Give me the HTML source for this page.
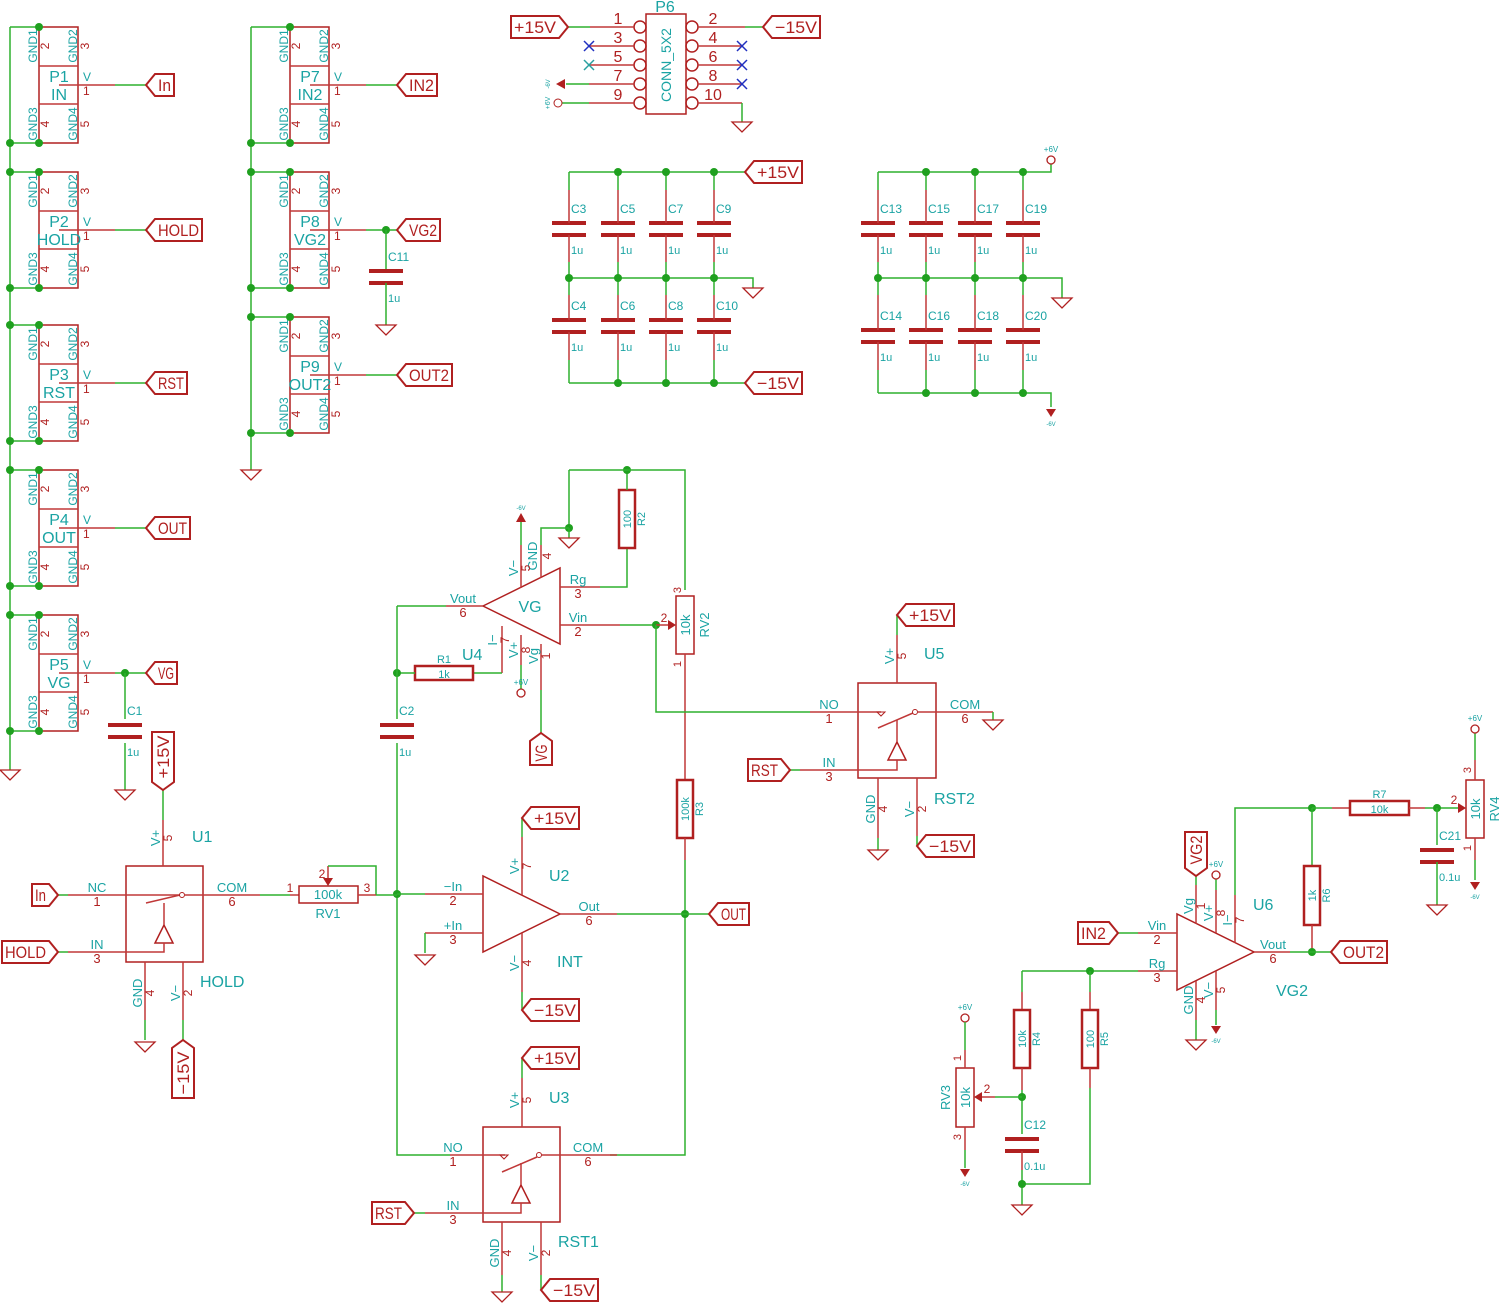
<!DOCTYPE html>
<html><head><meta charset="utf-8"><style>
html,body{margin:0;padding:0;background:#fff;}
svg{display:block;}
text{font-family:"Liberation Sans",sans-serif;}
</style></head><body>
<svg id="s" xmlns="http://www.w3.org/2000/svg" width="1500" height="1303" viewBox="0 0 1500 1303"></svg>
<script>
const S=[];const G="#2fb02f",R="#b02020",RP="#c03838",C="#1aa3a3",B="#2030c0";
function L(p,c,w){S.push(`<polyline points="${p}" fill="none" stroke="${c||G}" stroke-width="${w||1.5}"/>`);}
function W(p){L(p,G,1.5);}
function P(p){L(p,RP,1.5);}
function D(x,y){S.push(`<circle cx="${x}" cy="${y}" r="4" fill="#1fa01f"/>`);}
function T(x,y,s,o){o=o||{};const sz=o.s||14,c=o.c||C,a=o.a||"start";const tr=o.r?` transform="rotate(${o.r} ${x} ${y})"`:"";const tl=o.tl?` textLength="${o.tl}" lengthAdjust="spacingAndGlyphs"`:"";S.push(`<text x="${x}" y="${y}" font-size="${sz}" fill="${c}" text-anchor="${a}"${tr}${tl}>${s}</text>`);}
function GND(x,y){S.push(`<polygon points="${x-10},${y} ${x+10},${y} ${x},${y+10}" fill="none" stroke="${R}" stroke-width="1.3"/>`);}
function P6V(x,y){S.push(`<circle cx="${x}" cy="${y}" r="4" fill="none" stroke="${R}" stroke-width="1.3"/>`);T(x,y-8,"+6V",{s:8,a:"middle"});}
function M6V(x,y){S.push(`<polygon points="${x-5},${y-8} ${x+5},${y-8} ${x},${y}" fill="${R}"/>`);T(x,y+9,"-6V",{s:6,a:"middle"});}
function GL(x,y,t,d,w){
 let pts,tx;if(d=='L'){pts=`${x},${y} ${x+9},${y-11} ${x+w},${y-11} ${x+w},${y+11} ${x+9},${y+11}`;tx=x+9+(w-9)/2;}
 else{pts=`${x},${y} ${x-9},${y-11} ${x-w},${y-11} ${x-w},${y+11} ${x-9},${y+11}`;tx=x-9-(w-9)/2;}
 S.push(`<polygon points="${pts}" fill="#fff" stroke="${R}" stroke-width="2"/>`);T(tx,y+6,t,{s:17,c:R,a:"middle",tl:w-15});}
function GV(x,y,t,d,h){
 let pts,cy;if(d=='U'){pts=`${x},${y} ${x+11},${y+8} ${x+11},${y+h} ${x-11},${y+h} ${x-11},${y+8}`;cy=y+8+(h-8)/2;}
 else{pts=`${x},${y} ${x+11},${y-8} ${x+11},${y-h} ${x-11},${y-h} ${x-11},${y-8}`;cy=y-8-(h-8)/2;}
 S.push(`<polygon points="${pts}" fill="#fff" stroke="${R}" stroke-width="2"/>`);T(x+6,cy,t,{s:17,c:R,a:"middle",r:-90,tl:h-15});}
function CAP(x,y,ref,val){
 S.push(`<line x1="${x-17}" y1="${y-6}" x2="${x+17}" y2="${y-6}" stroke="${R}" stroke-width="4"/>`);
 S.push(`<line x1="${x-17}" y1="${y+6}" x2="${x+17}" y2="${y+6}" stroke="${R}" stroke-width="4"/>`);
 T(x+2,y-16,ref,{s:12});T(x+2,y+25,val,{s:11});}
function RES(x,y1,y2,val,ref){S.push(`<rect x="${x-8}" y="${y1}" width="16" height="${y2-y1}" fill="none" stroke="${R}" stroke-width="2.5"/>`);
 T(x+4,(y1+y2)/2,val,{s:11,a:"middle",r:-90});T(x+18,(y1+y2)/2,ref,{s:11,a:"middle",r:-90});}
function RESH(x1,x2,y,val,ref){S.push(`<rect x="${x1}" y="${y-7}" width="${x2-x1}" height="14" fill="none" stroke="${R}" stroke-width="2.5"/>`);
 T((x1+x2)/2,y+5,val,{s:11,a:"middle"});T((x1+x2)/2,y-10,ref,{s:11,a:"middle"});}
function POT(x,y1,y2,val,ref,left){S.push(`<rect x="${x-9}" y="${y1}" width="18" height="${y2-y1}" fill="none" stroke="${R}" stroke-width="1.5"/>`);
 T(x+5,(y1+y2)/2,val,{s:13,a:"middle",r:-90});T(left?x-15:x+24,(y1+y2)/2,ref,{s:13,a:"middle",r:-90});}

function CONN(x0,top,name,sig,wx,lab,lw){
 S.push(`<rect x="${x0}" y="${top}" width="39" height="116" fill="none" stroke="${R}" stroke-width="1.5"/>`);
 P(`${x0},${top+39} ${x0+39},${top+39}`);P(`${x0},${top+77} ${x0+39},${top+77}`);
 T(x0-2,top+19,"GND1",{s:12,a:"middle",r:-90});T(x0+38,top+19,"GND2",{s:12,a:"middle",r:-90});
 T(x0-2,top+97,"GND3",{s:12,a:"middle",r:-90});T(x0+38,top+97,"GND4",{s:12,a:"middle",r:-90});
 T(x0+10,top+19,"2",{s:12,c:R,a:"middle",r:-90});T(x0+50,top+19,"3",{s:12,c:R,a:"middle",r:-90});
 T(x0+10,top+97,"4",{s:12,c:R,a:"middle",r:-90});T(x0+50,top+97,"5",{s:12,c:R,a:"middle",r:-90});
 T(x0+20,top+55,name,{s:16,a:"middle"});T(x0+20,top+73,sig,{s:16,a:"middle"});
 T(x0+44,top+54,"V",{s:12});T(x0+44,top+68,"1",{s:12,c:R});
 P(`${x0+20},${top+58} ${x0+76},${top+58}`);W(`${x0+76},${top+58} ${wx},${top+58}`);
 GL(wx,top+58,lab,'L',lw);
}
const tops1=[27,172,325,470,615],nm1=["P1","P2","P3","P4","P5"],sg1=["IN","HOLD","RST","OUT","VG"],lb1=["In","HOLD","RST","OUT","VG"],lw1=[28,56,41,44,31];
W(`10,27 10,770`);GND(10,770);
tops1.forEach((t,i)=>{CONN(39,t,nm1[i],sg1[i],146,lb1[i],lw1[i]);W(`10,${t} 39,${t}`);W(`10,${t+116} 39,${t+116}`);D(39,t);D(39,t+116);D(10,t+116);if(i>0)D(10,t);});
D(125,673);W(`125,673 125,719`);CAP(125,731,"C1","1u");W(`125,743 125,790`);GND(125,790);
const tops2=[27,172,317],nm2=["P7","P8","P9"],sg2=["IN2","VG2","OUT2"],lb2=["IN2","VG2","OUT2"],lw2=[40,43,55];
W(`251,27 251,470`);GND(251,470);
tops2.forEach((t,i)=>{CONN(290,t,nm2[i],sg2[i],397,lb2[i],lw2[i]);W(`251,${t} 290,${t}`);W(`251,${t+116} 290,${t+116}`);D(290,t);D(290,t+116);D(251,t+116);if(i>0)D(251,t);});
D(386,230);W(`386,230 386,270`);CAP(386,277,"C11","1u");W(`386,283 386,325`);GND(386,325);

S.push(`<rect x="646" y="14" width="40" height="100" fill="none" stroke="${R}" stroke-width="1.5"/>`);
T(665,12,"P6",{s:16,a:"middle"});T(671,65,"CONN_5X2",{s:14,a:"middle",r:-90});
[27,46,65,84,103].forEach((y,i)=>{S.push(`<circle cx="640" cy="${y}" r="6" fill="none" stroke="${R}" stroke-width="1.5"/>`);S.push(`<circle cx="692" cy="${y}" r="6" fill="none" stroke="${R}" stroke-width="1.5"/>`);
 T(618,y-3,String(2*i+1),{s:16,c:R,a:"middle"});T(713,y-3,String(2*i+2),{s:16,c:R,a:"middle"});});
P(`590,27 634,27`);W(`568,27 590,27`);GL(568,27,"+15V",'R',57);
P(`698,27 745,27`);W(`745,27 763,27`);GL(763,27,"−15V",'L',57);
P(`589,46 634,46`);P(`589,65 634,65`);P(`698,46 742,46`);P(`698,65 742,65`);P(`698,84 742,84`);
function X(x,y,c){S.push(`<path d="M${x-5},${y-5}L${x+5},${y+5}M${x+5},${y-5}L${x-5},${y+5}" stroke="${c}" stroke-width="1.5"/>`);}
X(589,46,B);X(589,65,"#2aa0a0");X(742,46,B);X(742,65,B);X(742,84,B);
P(`589,84 634,84`);W(`566,84 589,84`);S.push(`<polygon points="556,84 565,79 565,89" fill="${R}"/>`);T(550,84,"-6V",{s:6,a:"middle",r:-90});
P(`589,103 634,103`);W(`562,103 589,103`);S.push(`<circle cx="558" cy="103" r="4" fill="none" stroke="${R}"/>`);T(550,103,"+6V",{s:7,a:"middle",r:-90});
P(`698,103 742,103`);W(`742,103 742,122`);GND(742,122);

const cx1=[569,618,666,714];
W(`569,172 745,172`);GL(745,172,"+15V",'L',57);
W(`569,278 753,278 753,288`);GND(753,288);
W(`569,383 745,383`);GL(745,383,"−15V",'L',57);
cx1.forEach((x,i)=>{CAP(x,229,"C"+(3+2*i),"1u");CAP(x,326,"C"+(4+2*i),"1u");
 W(`${x},172 ${x},190`);P(`${x},190 ${x},223`);P(`${x},235 ${x},262`);W(`${x},262 ${x},295`);P(`${x},295 ${x},320`);P(`${x},332 ${x},360`);W(`${x},360 ${x},383`);
 D(x,278);if(i>0){D(x,172);D(x,383);}});
const cx2=[878,926,975,1023];
W(`878,172 1051,172 1051,164`);P6V(1051,160);
W(`878,278 1062,278 1062,298`);GND(1062,298);
W(`878,393 1051,393 1051,407`);M6V(1051,417);
cx2.forEach((x,i)=>{CAP(x,229,"C"+(13+2*i),"1u");CAP(x,336,"C"+(14+2*i),"1u");
 W(`${x},172 ${x},190`);P(`${x},190 ${x},223`);P(`${x},235 ${x},262`);W(`${x},262 ${x},295`);P(`${x},295 ${x},330`);P(`${x},342 ${x},370`);W(`${x},370 ${x},393`);
 D(x,278);if(i>0){D(x,172);D(x,393);}});

S.push(`<polygon points="483,606 560,568 560,644" fill="none" stroke="${R}" stroke-width="1.5"/>`);
T(530,612,"VG",{s:16,a:"middle"});
W(`397,606 446,606`);P(`446,606 483,606`);T(463,603,"Vout",{s:13,a:"middle"});T(463,617,"6",{s:13,c:R,a:"middle"});
P(`560,587 600,587`);W(`600,587 627,587 627,548`);T(578,584,"Rg",{s:13,a:"middle"});T(578,598,"3",{s:13,c:R,a:"middle"});
RES(627,490,548,"100","R2");W(`627,490 627,470`);D(627,470);
W(`569,470 685,470 685,590`);W(`569,470 569,528`);D(569,528);W(`569,528 569,538`);GND(569,538);
P(`541,578 541,545`);W(`541,545 541,528 569,528`);T(537,556,"GND",{s:13,a:"middle",r:-90});T(551,556,"4",{s:12,c:R,a:"middle",r:-90});
P(`521,588 521,545`);W(`521,545 521,522`);S.push(`<polygon points="516,522 526,522 521,513" fill="${R}"/>`);T(521,510,"-6V",{s:6,a:"middle"});
T(518,568,"V−",{s:13,a:"middle",r:-90});T(530,568,"5",{s:12,c:R,a:"middle",r:-90});
P(`560,625 620,625`);W(`620,625 656,625`);D(656,625);P(`656,625 672,625`);S.push(`<polygon points="676,625 668,620 668,630" fill="${R}"/>`);
T(578,622,"Vin",{s:13,a:"middle"});T(578,636,"2",{s:13,c:R,a:"middle"});T(664,622,"2",{s:12,c:R,a:"middle"});
POT(685,596,654,"10k","RV2",false);T(681,590,"3",{s:11,c:R,a:"middle",r:-90});T(681,664,"1",{s:11,c:R,a:"middle",r:-90});
P(`685,654 685,780`);
W(`656,625 656,712 810,712`);
P(`502,626 502,673`);W(`502,673 473,673`);RESH(415,473,673,"1k","R1");W(`415,673 397,673`);D(397,673);
T(497,640,"I−",{s:13,a:"middle",r:-90});T(509,640,"7",{s:12,c:R,a:"middle",r:-90});
P(`521,635 521,665`);W(`521,665 521,689`);P6V(521,693);T(518,650,"V+",{s:13,a:"middle",r:-90});T(530,650,"8",{s:12,c:R,a:"middle",r:-90});
P(`541,644 541,690`);W(`541,690 541,733`);GV(541,733,"VG",'U',32);T(538,656,"Vg",{s:13,a:"middle",r:-90});T(550,656,"1",{s:12,c:R,a:"middle",r:-90});
T(462,660,"U4",{s:16});
W(`397,606 397,719`);CAP(397,731,"C2","1u");W(`397,743 397,1155 450,1155`);D(397,894);

RES(685,780,838,"100k","R3");P(`685,838 685,860`);W(`685,860 685,1155 610,1155`);D(685,914);
W(`685,914 709,914`);GL(709,914,"OUT",'L',40);

S.push(`<rect x="126" y="866" width="77" height="96" fill="none" stroke="${R}" stroke-width="1.5"/>`);
P(`68,895 182,895`);W(`58,895 68,895`);GL(58,895,"In",'R',26);
P(`146,903 180,895`);S.push(`<circle cx="182" cy="895" r="2.5" fill="#fff" stroke="${R}"/>`);
P(`184,895 260,895`);W(`260,895 290,895`);P(`290,895 299,895`);
T(97,892,"NC",{s:13,a:"middle"});T(97,906,"1",{s:13,c:R,a:"middle"});T(232,892,"COM",{s:13,a:"middle"});T(232,906,"6",{s:13,c:R,a:"middle"});
S.push(`<polygon points="164,925 155,943 173,943" fill="none" stroke="${R}" stroke-width="1.5"/>`);P(`164,903 164,925`);
P(`68,952 164,952 164,943`);W(`58,952 68,952`);GL(58,952,"HOLD",'R',56);T(97,949,"IN",{s:13,a:"middle"});T(97,963,"3",{s:13,c:R,a:"middle"});
P(`163,866 163,820`);W(`163,820 163,790`);GV(163,790,"+15V",'D',58);T(160,838,"V+",{s:13,a:"middle",r:-90});T(172,838,"5",{s:12,c:R,a:"middle",r:-90});T(192,842,"U1",{s:16});
P(`145,962 145,1020`);W(`145,1020 145,1040`);GND(145,1042);T(142,993,"GND",{s:13,a:"middle",r:-90});T(154,993,"4",{s:12,c:R,a:"middle",r:-90});
P(`183,962 183,1020`);W(`183,1020 183,1040`);GV(183,1040,"−15V",'U',58);T(180,993,"V−",{s:13,a:"middle",r:-90});T(192,993,"2",{s:12,c:R,a:"middle",r:-90});
T(200,987,"HOLD",{s:16});
S.push(`<rect x="299" y="886" width="59" height="17" fill="none" stroke="${R}" stroke-width="1.5"/>`);T(328,899,"100k",{s:13,a:"middle"});T(328,918,"RV1",{s:13,a:"middle"});
T(290,892,"1",{s:12,c:R,a:"middle"});T(367,892,"3",{s:12,c:R,a:"middle"});T(322,878,"2",{s:12,c:R,a:"middle"});
P(`328,878 328,866`);S.push(`<polygon points="328,886 323,878 333,878" fill="${R}"/>`);W(`328,866 376,866 376,895`);P(`358,895 376,895`);W(`376,895 397,895`);

S.push(`<polygon points="483,876 483,952 560,914" fill="none" stroke="${R}" stroke-width="1.5"/>`);
W(`397,894 425,894`);P(`425,894 483,894`);T(453,891,"−In",{s:13,a:"middle"});T(453,905,"2",{s:13,c:R,a:"middle"});
P(`425,933 483,933`);W(`425,933 425,953`);GND(425,955);T(453,930,"+In",{s:13,a:"middle"});T(453,944,"3",{s:13,c:R,a:"middle"});
P(`522,895 522,837`);W(`522,837 522,818`);GL(522,818,"+15V",'L',57);T(519,866,"V+",{s:13,a:"middle",r:-90});T(531,866,"7",{s:12,c:R,a:"middle",r:-90});
P(`522,933 522,992`);W(`522,992 522,1010`);GL(522,1010,"−15V",'L',57);T(519,963,"V−",{s:13,a:"middle",r:-90});T(531,963,"4",{s:12,c:R,a:"middle",r:-90});
P(`560,914 617,914`);W(`617,914 685,914`);T(589,911,"Out",{s:13,a:"middle"});T(589,925,"6",{s:13,c:R,a:"middle"});
T(549,881,"U2",{s:16});T(557,967,"INT",{s:16});

S.push(`<rect x="483" y="1127" width="77" height="95" fill="none" stroke="${R}" stroke-width="1.5"/>`);
P(`450,1155 505,1155`);S.push(`<polygon points="500,1155 508,1155 504,1159" fill="none" stroke="${R}"/>`);P(`502,1172 537,1157`);S.push(`<circle cx="539" cy="1155" r="2.5" fill="#fff" stroke="${R}"/>`);P(`542,1155 617,1155`);
T(453,1152,"NO",{s:13,a:"middle"});T(453,1166,"1",{s:13,c:R,a:"middle"});T(588,1152,"COM",{s:13,a:"middle"});T(588,1166,"6",{s:13,c:R,a:"middle"});
S.push(`<polygon points="521,1185 512,1203 530,1203" fill="none" stroke="${R}" stroke-width="1.5"/>`);P(`521,1163 521,1185`);
P(`425,1213 521,1213 521,1203`);W(`414,1213 425,1213`);GL(414,1213,"RST",'R',42);T(453,1210,"IN",{s:13,a:"middle"});T(453,1224,"3",{s:13,c:R,a:"middle"});
P(`522,1127 522,1078`);W(`522,1078 522,1058`);GL(522,1058,"+15V",'L',57);T(519,1100,"V+",{s:13,a:"middle",r:-90});T(531,1100,"5",{s:12,c:R,a:"middle",r:-90});T(549,1103,"U3",{s:16});
P(`502,1222 502,1275`);W(`502,1275 502,1292`);GND(502,1292);T(499,1253,"GND",{s:13,a:"middle",r:-90});T(511,1253,"4",{s:12,c:R,a:"middle",r:-90});
P(`541,1222 541,1275`);W(`541,1275 541,1290`);GL(541,1290,"−15V",'L',57);T(538,1253,"V−",{s:13,a:"middle",r:-90});T(550,1253,"2",{s:12,c:R,a:"middle",r:-90});
T(558,1247,"RST1",{s:16});

S.push(`<rect x="858" y="683" width="78" height="95" fill="none" stroke="${R}" stroke-width="1.5"/>`);
P(`810,712 881,712`);S.push(`<polygon points="877,712 885,712 881,716" fill="none" stroke="${R}"/>`);P(`878,728 913,713`);S.push(`<circle cx="915" cy="712" r="2.5" fill="#fff" stroke="${R}"/>`);P(`918,712 993,712`);W(`993,712 993,720`);GND(993,720);
T(829,709,"NO",{s:13,a:"middle"});T(829,723,"1",{s:13,c:R,a:"middle"});T(965,709,"COM",{s:13,a:"middle"});T(965,723,"6",{s:13,c:R,a:"middle"});
S.push(`<polygon points="897,742 888,760 906,760" fill="none" stroke="${R}" stroke-width="1.5"/>`);P(`897,720 897,742`);
P(`800,770 897,770 897,760`);W(`790,770 800,770`);GL(790,770,"RST",'R',42);T(829,767,"IN",{s:13,a:"middle"});T(829,781,"3",{s:13,c:R,a:"middle"});
P(`897,683 897,635`);W(`897,635 897,615`);GL(897,615,"+15V",'L',57);T(894,656,"V+",{s:13,a:"middle",r:-90});T(906,656,"5",{s:12,c:R,a:"middle",r:-90});T(924,659,"U5",{s:16});
P(`878,778 878,838`);W(`878,838 878,850`);GND(878,850);T(875,809,"GND",{s:13,a:"middle",r:-90});T(887,809,"4",{s:12,c:R,a:"middle",r:-90});
P(`917,778 917,836`);W(`917,836 917,846`);GL(917,846,"−15V",'L',57);T(914,809,"V−",{s:13,a:"middle",r:-90});T(926,809,"2",{s:12,c:R,a:"middle",r:-90});
T(934,804,"RST2",{s:16});

S.push(`<polygon points="1177,914 1177,990 1254,952" fill="none" stroke="${R}" stroke-width="1.5"/>`);
W(`1118,933 1138,933`);P(`1138,933 1177,933`);GL(1118,933,"IN2",'R',40);T(1157,930,"Vin",{s:13,a:"middle"});T(1157,944,"2",{s:13,c:R,a:"middle"});
P(`1138,971 1177,971`);W(`1022,971 1138,971`);D(1090,971);T(1157,968,"Rg",{s:13,a:"middle"});T(1157,982,"3",{s:13,c:R,a:"middle"});
P(`1196,924 1196,885`);W(`1196,885 1196,876`);GV(1196,876,"VG2",'D',44);T(1193,906,"Vg",{s:13,a:"middle",r:-90});T(1205,906,"1",{s:12,c:R,a:"middle",r:-90});
P(`1216,933 1216,890`);W(`1216,890 1216,879`);P6V(1216,875);T(1213,913,"V+",{s:13,a:"middle",r:-90});T(1225,913,"8",{s:12,c:R,a:"middle",r:-90});
P(`1235,943 1235,895`);W(`1235,895 1235,808 1312,808`);T(1232,920,"I−",{s:13,a:"middle",r:-90});T(1244,920,"7",{s:12,c:R,a:"middle",r:-90});
D(1312,808);W(`1312,808 1332,808`);P(`1332,808 1350,808`);RESH(1350,1409,808,"10k","R7");P(`1409,808 1425,808`);W(`1425,808 1460,808`);D(1437,808);
S.push(`<polygon points="1466,808 1458,803 1458,813" fill="${R}"/>`);T(1454,804,"2",{s:12,c:R,a:"middle"});
POT(1475,780,838,"10k","RV4",false);P(`1475,780 1475,760`);W(`1475,760 1475,733`);P6V(1475,729);T(1471,770,"3",{s:11,c:R,a:"middle",r:-90});
P(`1475,838 1475,860`);W(`1475,860 1475,880`);M6V(1475,890);T(1471,848,"1",{s:11,c:R,a:"middle",r:-90});
W(`1437,808 1437,845`);CAP(1437,856,"C21","0.1u");W(`1437,862 1437,905`);GND(1437,905);
W(`1312,808 1312,866`);RES(1312,866,925,"1k","R6");P(`1312,925 1312,952`);D(1312,952);
P(`1254,952 1290,952`);W(`1290,952 1331,952`);GL(1331,952,"OUT2",'L',56);T(1273,949,"Vout",{s:13,a:"middle"});T(1273,963,"6",{s:13,c:R,a:"middle"});
P(`1196,981 1196,1020`);W(`1196,1020 1196,1040`);GND(1196,1040);T(1193,1000,"GND",{s:13,a:"middle",r:-90});T(1205,1000,"4",{s:12,c:R,a:"middle",r:-90});
P(`1216,971 1216,1010`);W(`1216,1010 1216,1025`);M6V(1216,1034);T(1213,990,"V−",{s:13,a:"middle",r:-90});T(1225,990,"5",{s:12,c:R,a:"middle",r:-90});
T(1253,910,"U6",{s:16});T(1276,996,"VG2",{s:16});

W(`1022,971 1022,992`);P(`1022,992 1022,1010`);RES(1022,1010,1068,"10k","R4");P(`1022,1068 1022,1090`);W(`1022,1090 1022,1134`);D(1022,1097);
W(`1090,971 1090,992`);P(`1090,992 1090,1010`);RES(1090,1010,1068,"100","R5");P(`1090,1068 1090,1088`);W(`1090,1088 1090,1184 1022,1184`);
CAP(1022,1145,"C12","0.1u");P(`1022,1151 1022,1170`);W(`1022,1170 1022,1205`);D(1022,1184);GND(1022,1205);
POT(965,1068,1127,"10k","RV3",true);P6V(965,1018);W(`965,1022 965,1050`);P(`965,1050 965,1068`);T(961,1058,"1",{s:11,c:R,a:"middle",r:-90});
P(`965,1127 965,1150`);W(`965,1150 965,1168`);M6V(965,1177);T(961,1137,"3",{s:11,c:R,a:"middle",r:-90});
S.push(`<polygon points="974,1097 982,1092 982,1102" fill="${R}"/>`);P(`982,1097 995,1097`);W(`995,1097 1022,1097`);T(987,1093,"2",{s:12,c:R,a:"middle"});

document.getElementById("s").innerHTML=S.join("");
</script>
</body></html>
